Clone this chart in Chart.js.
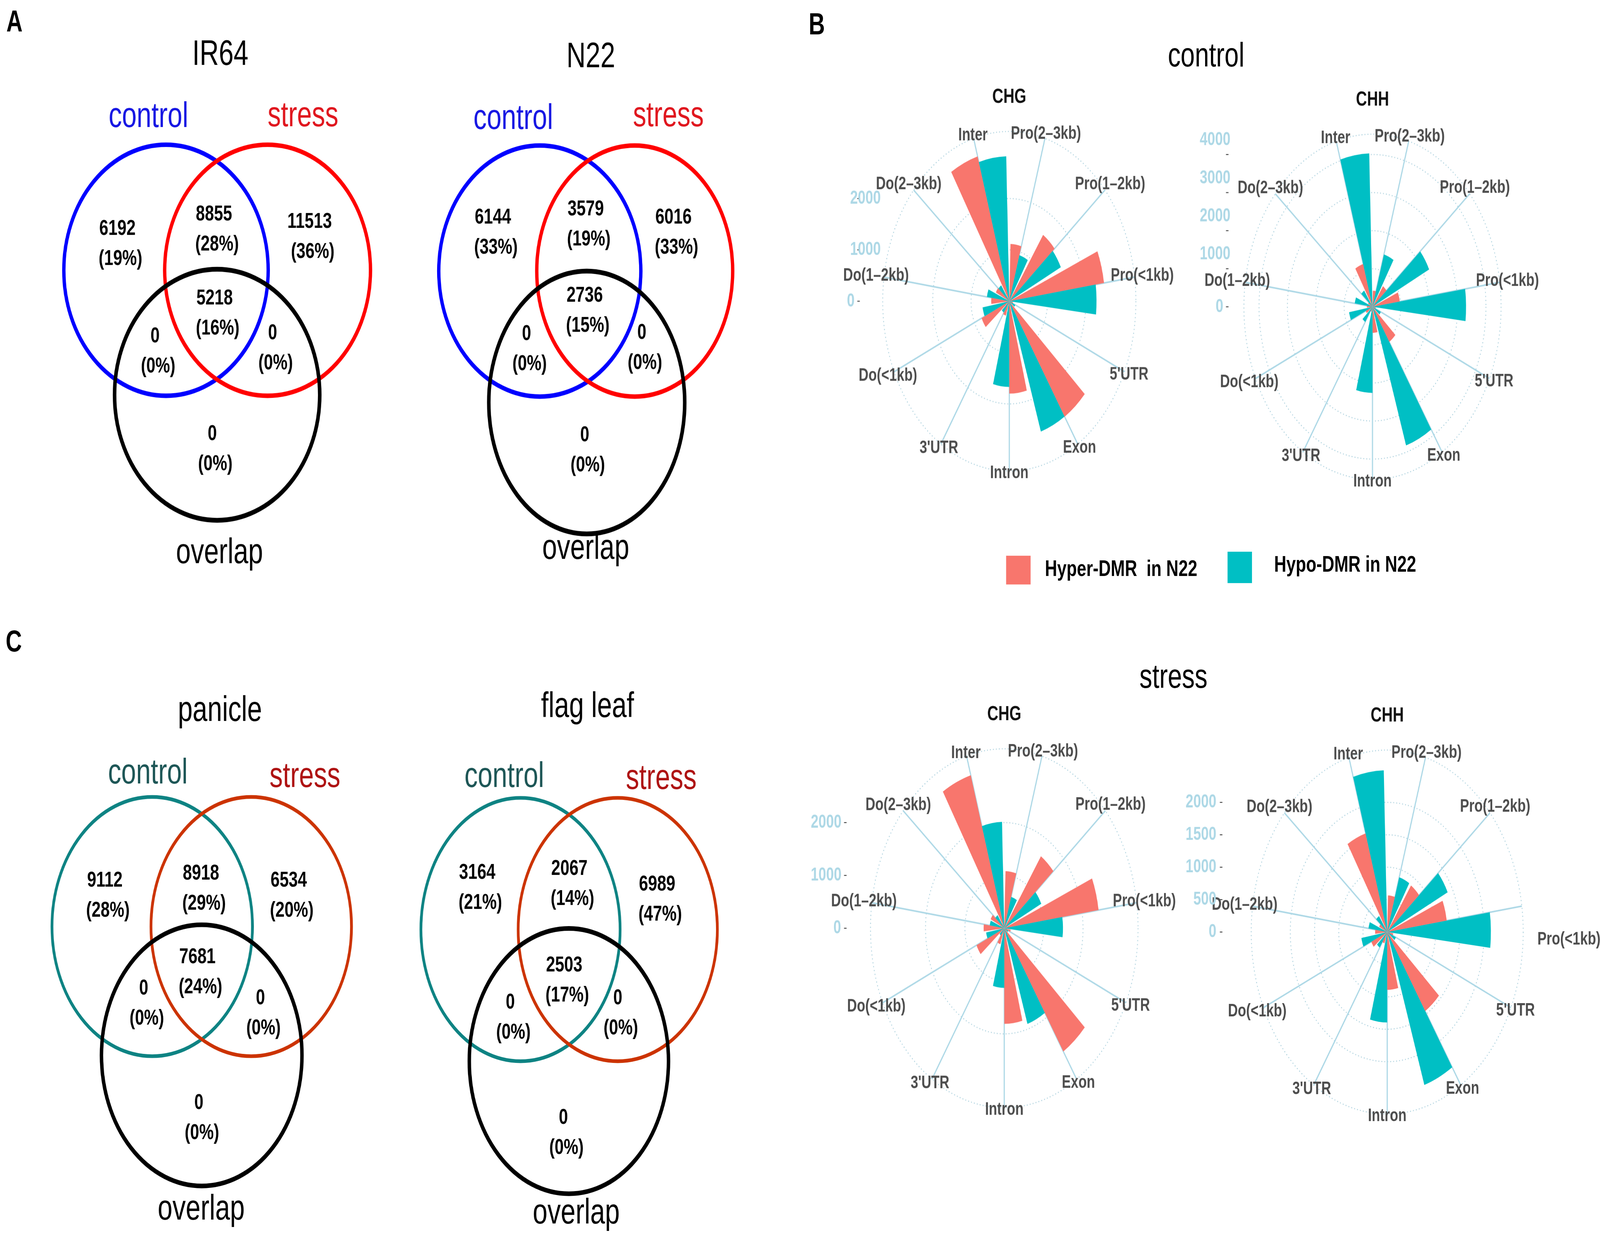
<!DOCTYPE html>
<html>
<head>
<meta charset="utf-8">
<title>DMR overlap and genomic distribution</title>
<script src="https://cdn.jsdelivr.net/npm/chart.js@4.4.1/dist/chart.umd.min.js"></script>
<style>
  html, body { margin: 0; padding: 0; background: #fff; overflow: hidden; }
  #page { position: absolute; left: 0; top: 0; width: 1568px; height: 903px; overflow: hidden; background: #fff;
          transform-origin: 0 0; font-family: "Liberation Sans", Arial, Helvetica, sans-serif; }
  .lbl { position: absolute; white-space: pre; line-height: 1; }
</style>
</head>
<body>
<div id="page"></div>
<script>
// the figure is laid out in a 1568 x 903 frame and stretched to fill the window
const W = 1568, H = 903;
const SX = window.innerWidth / W, SY = window.innerHeight / H;
const DPR = Math.max(SX, SY) * (window.devicePixelRatio || 1);
const FONT = '"Liberation Sans", Arial, Helvetica, sans-serif';

// Venn regions: control only, control+stress, stress only, all three,
// control+overlap, stress+overlap, overlap only
const ir64Counts = [6192, 8855, 11513, 5218, 0, 0, 0];
const ir64Pct = [19, 28, 36, 16, 0, 0, 0];
const n22Counts = [6144, 3579, 6016, 2736, 0, 0, 0];
const n22Pct = [33, 19, 33, 15, 0, 0, 0];
const panicleCounts = [9112, 8918, 6534, 7681, 0, 0, 0];
const paniclePct = [28, 29, 20, 24, 0, 0, 0];
const flagLeafCounts = [3164, 2067, 6989, 2503, 0, 0, 0];
const flagLeafPct = [21, 14, 47, 17, 0, 0, 0];

// DMR numbers per genomic feature
const features = ['Inter', 'Pro(2–3kb)', 'Pro(1–2kb)', 'Pro(<1kb)', "5'UTR", 'Exon', 'Intron', "3'UTR", 'Do(<1kb)', 'Do(1–2kb)', 'Do(2–3kb)'];
const controlCHGHyper = [2940, 1115, 1565, 2500, 100, 2675, 1800, 296, 795, 473, 390];
const controlCHGHypo  = [2825, 935, 1500, 2280, 170, 2670, 1670, 263, 708, 590, 375];
const controlCHHHyper = [1173, 425, 655, 972, 120, 1095, 685, 130, 260, 199, 171];
const controlCHHHypo  = [4030, 1435, 2225, 3300, 320, 3830, 2262, 475, 836, 630, 520];
const stressCHGHyper  = [3020, 1082, 1650, 2420, 165, 2775, 1810, 320, 775, 525, 385];
const stressCHGHypo   = [2015, 620, 1047, 1490, 110, 1905, 1130, 160, 467, 372, 300];
const stressCHHHyper  = [1585, 565, 870, 1240, 127, 1450, 892, 183, 360, 250, 185];
const stressCHHHypo   = [2495, 880, 1390, 2140, 195, 2480, 1395, 285, 540, 390, 300];
const controlCHGTicks = [0, 1000, 2000];
const controlCHHTicks = [0, 1000, 2000, 3000, 4000];
const stressCHGTicks = [0, 1000, 2000];
const stressCHHTicks = [0, 500, 1000, 1500, 2000];

const hyperColor = '#F8766D';
const hypoColor = '#00BFC4';

Chart.defaults.animation = false;
Chart.defaults.font.family = FONT;
Chart.defaults.plugins.legend.display = false;
Chart.defaults.plugins.tooltip.enabled = false;

const page = document.getElementById('page');
page.style.transform = `scale(${SX}, ${SY})`;

function addText(txt, x, y, size, opt = {}) {
  const d = document.createElement('div');
  d.className = 'lbl';
  d.textContent = txt;
  d.style.fontSize = size + 'px';
  d.style.fontWeight = opt.bold ? 'bold' : 'normal';
  d.style.color = opt.color || '#000';
  d.style.left = x + 'px';
  d.style.top = y + 'px';
  d.style.transform = opt.left ? 'translate(0,-50%)' : 'translate(-50%,-50%)';
  page.appendChild(d);
}

function addRect(x, y, w, h, color) {
  const d = document.createElement('div');
  d.style.cssText = `position:absolute;left:${x}px;top:${y}px;width:${w}px;height:${h}px;background:${color};`;
  page.appendChild(d);
}

function addCanvas(x, y, w, h) {
  const d = document.createElement('div');
  d.style.cssText = `position:absolute;left:${x}px;top:${y}px;width:${w}px;height:${h}px;`;
  const c = document.createElement('canvas');
  d.appendChild(c);
  page.appendChild(d);
  return c;
}

// ---------- Venn diagrams ----------
function vennPlugin(v) {
  return {
    id: 'venn',
    afterDatasetsDraw(chart) {
      const ctx = chart.ctx, xs = chart.scales.x, ys = chart.scales.y;
      const k = xs.getPixelForValue(1) - xs.getPixelForValue(0);
      const setPts = chart.getDatasetMeta(0).data;
      const regPts = chart.getDatasetMeta(1).data;
      ctx.save();
      v.sets.forEach((s, i) => {
        ctx.beginPath();
        ctx.ellipse(setPts[i].x, setPts[i].y, s.rx * k, s.ry * k, 0, 0, Math.PI * 2);
        ctx.strokeStyle = s.line;
        ctx.lineWidth = s.lw * k;
        ctx.stroke();
      });
      ctx.textAlign = 'center';
      ctx.textBaseline = 'middle';
      ctx.font = `${26 * k}px ${FONT}`;
      ctx.fillStyle = '#000';
      ctx.fillText(v.title[0], xs.getPixelForValue(v.title[1]), ys.getPixelForValue(v.title[2]));
      v.sets.forEach(s => {
        ctx.fillStyle = s.text;
        ctx.fillText(s.name, xs.getPixelForValue(s.lx), ys.getPixelForValue(s.ly));
      });
      ctx.font = `bold ${16 * k}px ${FONT}`;
      ctx.fillStyle = '#000';
      regPts.forEach((p, i) => {
        ctx.fillText(String(v.counts[i]), p.x, p.y);
        ctx.fillText('(' + v.pct[i] + '%)', p.x + 3 * k, p.y + 22 * k);
      });
      ctx.restore();
    }
  };
}

function makeVenn(v) {
  const [x0, y0, w, h] = v.box;
  const canvas = addCanvas(x0, y0, w, h);
  new Chart(canvas, {
    type: 'scatter',
    data: {
      datasets: [
        { label: 'sets', data: v.sets.map(s => ({ x: s.cx, y: s.cy })), pointRadius: 0 },
        { label: 'regions', data: v.anchors.map(a => ({ x: a[0], y: a[1] })), pointRadius: 0 }
      ]
    },
    options: {
      responsive: true, maintainAspectRatio: false, events: [], devicePixelRatio: DPR,
      layout: { padding: 0 },
      scales: {
        x: { type: 'linear', min: x0, max: x0 + w, display: false },
        y: { type: 'linear', min: y0, max: y0 + h, reverse: true, display: false }
      }
    },
    plugins: [vennPlugin(v)]
  });
}

const blue = '#0000FF', red = '#FF0000', teal = '#0E8383', rust = '#CC3300';

makeVenn({
  box: [0, 10, 395, 420], title: ['IR64', 215.8, 40.1], counts: ir64Counts, pct: ir64Pct,
  sets: [
    { name: 'control', cx: 162.6, cy: 197.4, rx: 100.1, ry: 91.7, lw: 3.3, line: blue, text: '#1717E3', lx: 145.4, ly: 85.6 },
    { name: 'stress', cx: 262.1, cy: 197.4, rx: 100.8, ry: 91.7, lw: 3.3, line: red, text: '#E0161E', lx: 296.8, ly: 85.1 },
    { name: 'overlap', cx: 212.7, cy: 288.4, rx: 100.5, ry: 91.7, lw: 3.5, line: '#000', text: '#000', lx: 215, ly: 404.1 }
  ],
  anchors: [[115, 167.3], [209.6, 156.6], [303.3, 161.9], [210.2, 218.1], [151.9, 245.7], [267, 243.5], [207.9, 317.1]]
});

makeVenn({
  box: [395, 10, 370, 420], title: ['N22', 579, 42], counts: n22Counts, pct: n22Pct,
  sets: [
    { name: 'control', cx: 529, cy: 198, rx: 99, ry: 91.7, lw: 3.3, line: blue, text: '#1717E3', lx: 503, ly: 87 },
    { name: 'stress', cx: 622, cy: 198, rx: 96, ry: 91.7, lw: 3.3, line: red, text: '#E0161E', lx: 655, ly: 85 },
    { name: 'overlap', cx: 575, cy: 294, rx: 96, ry: 96, lw: 3.5, line: '#000', text: '#000', lx: 574, ly: 401 }
  ],
  anchors: [[483, 159], [574, 153], [660, 159], [573, 216], [516, 244], [629, 243], [573, 318]]
});

makeVenn({
  box: [0, 495, 395, 408], title: ['panicle', 215.4, 519.6], counts: panicleCounts, pct: paniclePct,
  sets: [
    { name: 'control', cx: 149.1, cy: 676.9, rx: 98.2, ry: 94.7, lw: 2.7, line: teal, text: '#1D5656', lx: 144.8, ly: 565.3 },
    { name: 'stress', cx: 246.1, cy: 676.9, rx: 98.2, ry: 94.7, lw: 2.7, line: rust, text: '#AE1212', lx: 298.7, ly: 567.7 },
    { name: 'overlap', cx: 197.6, cy: 771, rx: 98.2, ry: 95.4, lw: 3.4, line: '#000', text: '#000', lx: 197.1, ly: 883.7 }
  ],
  anchors: [[102.7, 643.4], [196.9, 638.2], [282.8, 643.4], [193.4, 699.3], [140.8, 722.1], [255.1, 729.3], [194.8, 805.7]]
});

makeVenn({
  box: [395, 495, 370, 408], title: ['flag leaf', 575.8, 516.7], counts: flagLeafCounts, pct: flagLeafPct,
  sets: [
    { name: 'control', cx: 510.1, cy: 679.1, rx: 97.6, ry: 96.2, lw: 2.7, line: teal, text: '#1D5656', lx: 494.2, ly: 567.7 },
    { name: 'stress', cx: 605.4, cy: 679.1, rx: 97.6, ry: 96.2, lw: 2.7, line: rust, text: '#AE1212', lx: 648, ly: 569.1 },
    { name: 'overlap', cx: 557.5, cy: 775.2, rx: 97.6, ry: 96.9, lw: 3.4, line: '#000', text: '#000', lx: 564.7, ly: 886.6 }
  ],
  anchors: [[467.7, 637.6], [558, 634.7], [644, 646.3], [552.9, 705.2], [500.1, 732.3], [605.4, 729.3], [552.1, 816.7]]
});

// ---------- radial (coord_polar style) bar charts ----------
const step = 360 / features.length;
const midAngle = i => (i - 0.5) * step * Math.PI / 180;

function radialPlugin(p) {
  return {
    id: 'radialDeco',
    beforeDatasetsDraw(chart) {
      const r = chart.scales.r, ctx = chart.ctx;
      const rEnd = r.getDistanceFromCenterForValue(r.max);
      ctx.save();
      ctx.strokeStyle = '#ADD8E6';
      ctx.lineWidth = 1.15;
      features.forEach((f, i) => {
        const a = midAngle(i);
        ctx.beginPath();
        ctx.moveTo(r.xCenter, r.yCenter);
        ctx.lineTo(r.xCenter + rEnd * Math.sin(a), r.yCenter - rEnd * Math.cos(a));
        ctx.stroke();
      });
      ctx.restore();
    },
    afterDraw(chart) {
      const r = chart.scales.r, ctx = chart.ctx;
      const rEnd = r.getDistanceFromCenterForValue(r.max);
      ctx.save();
      ctx.textBaseline = 'middle';
      ctx.textAlign = 'center';
      ctx.fillStyle = '#111';
      ctx.font = `bold 15px ${FONT}`;
      ctx.fillText(p.title, r.xCenter, r.yCenter - rEnd - 25);

      ctx.font = `bold 13.3px ${FONT}`;
      ctx.fillStyle = '#4D4D4D';
      features.forEach((f, i) => {
        const a = midAngle(i);
        const tw = ctx.measureText(f).width;
        const rr = rEnd + 1.5 + 0.1 * tw * Math.abs(Math.sin(a));
        const n = p.nudge[f] || [0, 0];
        ctx.fillText(f, r.xCenter + rr * Math.sin(a) + n[0], r.yCenter - rr * Math.cos(a) + n[1]);
      });

      ctx.textAlign = 'right';
      ctx.font = `bold 13.5px ${FONT}`;
      p.ticks.forEach(v => {
        const y = r.yCenter - r.getDistanceFromCenterForValue(v);
        const tx = r.xCenter + p.tickOff;
        ctx.strokeStyle = '#333';
        ctx.lineWidth = 0.6;
        ctx.beginPath();
        ctx.moveTo(tx, y);
        ctx.lineTo(tx + 2.5, y);
        ctx.stroke();
        ctx.fillStyle = '#ADD8E6';
        const lx = r.xCenter + (v === 0 ? p.zeroOff : p.labelOff);
        ctx.fillText(String(v), lx, y + (v === 0 ? 0 : p.labelDy));
      });
      ctx.restore();
    }
  };
}

function makeRadial(p) {
  const padX = 90, padT = 50, padB = 30;
  const canvas = addCanvas(p.cx - p.R - padX, p.cy - p.R - padT, 2 * p.R + 2 * padX, 2 * p.R + padT + padB);
  const values = [], colors = [], angles = [], labels = [];
  features.forEach((f, i) => {
    values.push(p.hyper[i], p.hypo[i], 0);
    colors.push(hyperColor, hypoColor, 'rgba(0,0,0,0)');
    angles.push(0.45 * step, 0.45 * step, 0.1 * step);
    labels.push(f + ' hyper', f + ' hypo', '');
  });
  const rMax = Math.max(...p.hyper, ...p.hypo) * 1.125;
  new Chart(canvas, {
    type: 'polarArea',
    data: {
      labels: labels,
      datasets: [{
        data: values,
        backgroundColor: c => colors[c.dataIndex],
        borderWidth: 0,
        angle: c => angles[c.dataIndex]
      }]
    },
    options: {
      responsive: true, maintainAspectRatio: false, events: [], devicePixelRatio: DPR,
      layout: { padding: { left: padX, right: padX, top: padT, bottom: padB } },
      scales: {
        r: {
          min: 0, max: rMax,
          startAngle: -(0.5 * step + 0.45 * step),
          ticks: { display: false },
          afterBuildTicks: sc => { sc.ticks = p.ticks.concat([rMax]).map(v => ({ value: v })); },
          grid: { circular: true, color: '#A9CFDC', lineWidth: 0.8 },
          border: { dash: [0.8, 2.1] },
          angleLines: { display: false },
          pointLabels: { display: false }
        }
      }
    },
    plugins: [radialPlugin(p)]
  });
}

makeRadial({ title: 'CHG', hyper: controlCHGHyper, hypo: controlCHGHypo, ticks: controlCHGTicks,
  cx: 989.9, cy: 220.1, R: 124.5, tickOff: -148.9, labelOff: -125.9, zeroOff: -151.5, labelDy: 0, nudge: {} });
makeRadial({ title: 'CHH', hyper: controlCHHHyper, hypo: controlCHHHypo, ticks: controlCHHTicks,
  cx: 1344.6, cy: 223.8, R: 126, tickOff: -143.6, labelOff: -139.2, zeroOff: -146.2, labelDy: -10.5, nudge: {} });
makeRadial({ title: 'CHG', hyper: stressCHGHyper, hypo: stressCHGHypo, ticks: stressCHGTicks,
  cx: 985.2, cy: 678.7, R: 131.9, tickOff: -156.9, labelOff: -159.4, zeroOff: -159.8, labelDy: 0, nudge: {} });
makeRadial({ title: 'CHH', hyper: stressCHHHyper, hypo: stressCHHHypo, ticks: stressCHHTicks,
  cx: 1360, cy: 681.7, R: 133.6, tickOff: -163.7, labelOff: -167.1, zeroOff: -167.1, labelDy: 0,
  nudge: { 'Pro(<1kb)': [38.6, 25.6] } });

// ---------- headings and legend ----------
addText('A', 14.2, 16, 22, { bold: true });
addText('B', 800.5, 17.5, 22, { bold: true });
addText('C', 13.5, 468.6, 22, { bold: true });
addText('control', 1182, 40, 25);
addText('stress', 1150, 494, 25);
addRect(986, 405.8, 24, 21.6, hyperColor);
addText('Hyper-DMR  in N22', 1024, 416.3, 16.6, { bold: true, left: true });
addRect(1203.4, 402.5, 24, 23.6, hypoColor);
addText('Hypo-DMR in N22', 1248.6, 413.4, 16.6, { bold: true, left: true });
</script>
</body>
</html>
